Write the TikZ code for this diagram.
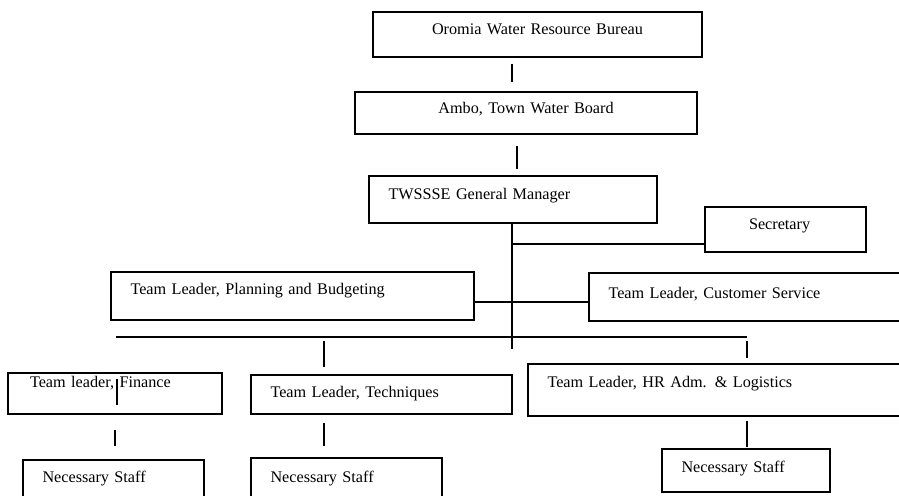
\documentclass[tikz,border=0pt]{standalone}
\usepackage{fontspec}
\setmainfont{Liberation Serif}
\usetikzlibrary{calc}

\begin{document}
\begin{tikzpicture}[x=1pt, y=-1pt,
    unit/.style={draw, line width=1.5pt, inner xsep=19.5pt, inner ysep=0pt,
                 align=left, text height=11pt, text depth=11pt,
                 font=\fontsize{16.2}{19}\selectfont},
    link/.style={line width=1.5pt}]
  \useasboundingbox (0,0) rectangle (899,495);
  \clip (0,0) rectangle (899,495);

  % --- Leitung oben ---
  \node[unit, align=center, text width=290pt, minimum height=45pt] (bureau) at (537.5,34.5) {Oromia Water Resource Bureau};
  \node[unit, align=center, text width=303pt, minimum height=42pt] (board) at (526,113) {Ambo, Town Water Board};
  \node[unit, text width=249pt, minimum height=47pt] (gm) at (513,199.5) {TWSSSE General Manager};
  \node[unit, text width=73pt, inner xsep=44pt, minimum height=45pt] (secretary) at (785.5,229.5) {Secretary};

  % --- Stabsstellen ---
  \node[unit, text width=324pt, minimum height=48pt, text depth=14pt] (plan) at (292.5,296) {Team Leader, Planning and Budgeting};
  \node[unit, text width=287pt, minimum height=48pt, text depth=8pt] (care) at (752,297) {Team Leader, Customer Service};

  % --- Teams unten ---
  \node[unit, text width=170pt, inner xsep=22pt, minimum height=41pt, text depth=23pt] (finance) at (115,393.5) {Team leader, Finance};
  \node[unit, text width=222pt, minimum height=39pt, text depth=5pt] (tech) at (381.5,394.5) {Team Leader, Techniques};
  \node[unit, text width=348pt, minimum height=52pt, text depth=16pt] (hr) at (721.5,390) {Team Leader, HR Adm. \& Logistics};

  % Personal
  \node[unit, text width=142pt, minimum height=45pt] (staff1) at (113.5,482.5) {Necessary Staff};
  \node[unit, text width=152pt, minimum height=45pt, text depth=8pt] (staff2) at (346.5,480.5) {Necessary Staff};
  \node[unit, text width=129pt, minimum height=43pt, text depth=8pt] (staff3) at (746,470.5) {Necessary Staff};

  % --- Linien ---
  \coordinate (trunk) at (512,0);
  \coordinate (trunk-end) at (512,349);
  \draw[link, shorten <=6pt, shorten >=9pt] (bureau.south -| trunk) -- (board.north -| trunk);
  \draw[link, shorten <=11pt, shorten >=6pt] ([xshift=5pt]trunk |- board.south) -- ([xshift=5pt]trunk |- gm.north);
  \draw[link] (gm.south -| trunk) -- (trunk-end);
  \draw[link] (secretary.west) ++(0,14.5) coordinate (sec-tap) -- (sec-tap -| trunk);
  \draw[link] (plan.east) ++(0,6) coordinate (pc-tap) -- (pc-tap -| care.west);

  % Sammelschiene
  \coordinate (bus-w) at (116,337);
  \coordinate (bus-e) at (747,337);
  \coordinate (tap-tech) at (324,341);
  \draw[link] (bus-w) -- (bus-e);
  \draw[link, shorten >=7pt] (tap-tech) -- (tap-tech |- tech.north);
  \draw[link, shorten <=4pt, shorten >=5pt] (bus-e) -- (bus-e |- hr.north);

  \draw[link, shorten <=15pt, shorten >=13pt] (finance.south) -- (finance.south |- staff1.north);
  \draw[link, shorten <=8pt, shorten >=11pt] (tap-tech |- tech.south) -- (tap-tech |- staff2.north);
  \draw[link, shorten <=4pt, shorten >=1pt] (bus-e |- hr.south) -- (bus-e |- staff3.north);

  % Strich im Text
  \draw[link] (117,379) -- (117,405);
\end{tikzpicture}
\end{document}
